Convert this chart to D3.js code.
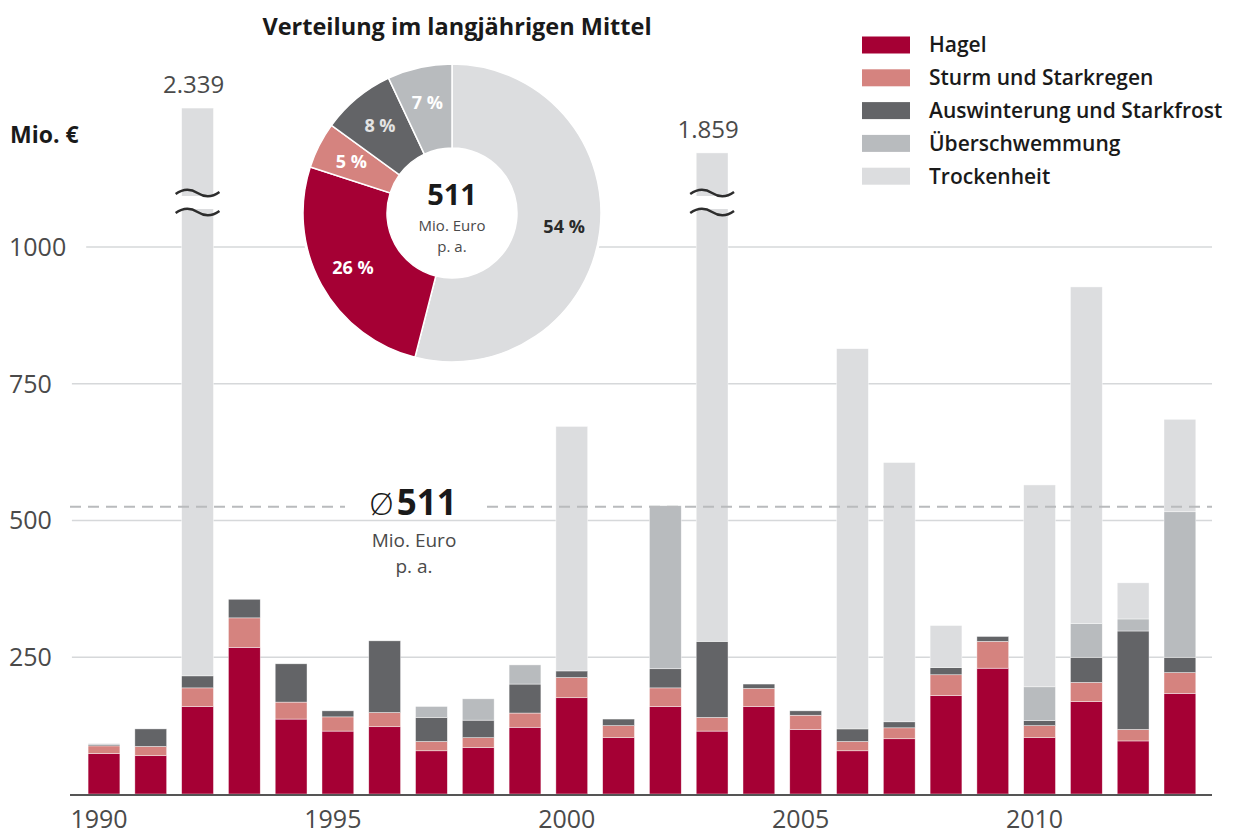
<!DOCTYPE html>
<html>
<head>
<meta charset="utf-8">
<script src="https://cdn.jsdelivr.net/npm/d3@7"></script>
<style>
  body { margin: 0; background: #fff; }
  svg { display: block; font-family: "Open Sans", sans-serif; }
</style>
</head>
<body>
<svg width="1237" height="834"></svg>
<script>
const years = [1990, 1991, 1992, 1993, 1994, 1995, 1996, 1997, 1998, 1999, 2000, 2001,
               2002, 2003, 2004, 2005, 2006, 2007, 2008, 2009, 2010, 2011, 2012, 2013]
const hagel =           [74, 70, 160, 268, 137, 115, 123, 79, 85, 122, 176, 103, 160, 115, 160, 118, 79, 101, 180, 230, 103, 169, 97, 184]
const sturm =           [14, 17, 34, 54, 31, 26, 26, 17, 18, 26, 37, 22, 34, 25, 33, 26, 17, 20, 38, 49, 22, 35, 21, 38]
const auswinterung =    [2, 32, 22, 34, 70, 11, 131, 44, 32, 53, 12, 12, 35, 139, 8, 8, 23, 11, 13, 9, 9, 46, 180, 28]
const ueberschwemmung = [2, 0, 0, 0, 0, 0, 0, 20, 39, 35, 0, 0, 298, 0, 0, 0, 0, 0, 0, 0, 62, 62, 22, 266]
const trockenheit =     [0, 0, 2123, 0, 0, 0, 0, 0, 0, 0, 447, 0, 0, 1580, 0, 0, 695, 474, 77, 0, 369, 615, 66, 169]

const keys = ["Hagel", "Sturm und Starkregen", "Auswinterung und Starkfrost", "Überschwemmung", "Trockenheit"]
const colours = ["#a50034", "#d5837f", "#636467", "#b8bbbe", "#dcdddf"]

// long-term shares for the donut (clockwise from top)
const shareKeys = ["Trockenheit", "Hagel", "Sturm und Starkregen", "Auswinterung und Starkfrost", "Überschwemmung"]
const shares = [54, 26, 5, 8, 7]

const yTicks = [250, 500, 750, 1000]
const xTickYears = [1990, 1995, 2000, 2005, 2010]
const bigTotals = { 1992: "2.339", 2003: "1.859" }
const average = 511
const averageLine = 525

const table = years.map((y, i) => ({
  year: y,
  "Hagel": hagel[i],
  "Sturm und Starkregen": sturm[i],
  "Auswinterung und Starkfrost": auswinterung[i],
  "Überschwemmung": ueberschwemmung[i],
  "Trockenheit": trockenheit[i]
}))

const svg = d3.select("svg")
const colour = d3.scaleOrdinal().domain(keys).range(colours)

const x = d3.scaleBand().domain(years).range([80.6, 1203.3]).paddingInner(0.32).paddingOuter(0.16)
const y = d3.scaleLinear().domain([0, 1000]).range([794, 247])
// bars beyond these heights are cut with a break mark
const capTop = { 1992: 1254, 2003: 1172 }
const shown = d => Math.min(d[1], capTop[d.data.year] || d[1])
const breakY1 = 193, breakY2 = 212
const xLeft = 70, xRight = 1212

// grid + y labels
const grid = svg.append("g")
yTicks.forEach(t => {
  const lbl = grid.append("text")
    .attr("x", 9).attr("y", y(t)).attr("dy", "0.35em")
    .attr("font-size", 25).attr("fill", "#4a4a4a")
    .text(t)
  const w = lbl.node().getComputedTextLength()
  grid.append("line")
    .attr("x1", Math.max(xLeft, 9 + w + 20)).attr("x2", xRight)
    .attr("y1", y(t)).attr("y2", y(t))
    .attr("stroke", "#d6d8da").attr("stroke-width", 1.5)
})

svg.append("text")
  .attr("x", 10).attr("y", 143)
  .attr("font-size", 23).attr("font-weight", 700).attr("fill", "#1a1a1a")
  .text("Mio. €")

// bars
const series = d3.stack().keys(keys)(table)
const bars = svg.append("g")
bars.selectAll("g")
  .data(series)
  .join("g")
  .attr("fill", d => colour(d.key))
  .selectAll("rect")
  .data(d => d.filter(s => s[1] - s[0] > 0))
  .join("rect")
  .attr("x", d => x(d.data.year))
  .attr("width", x.bandwidth())
  .attr("y", d => y(shown(d)))
  .attr("height", d => y(d[0]) - y(shown(d)))
  .attr("stroke", "#fff").attr("stroke-width", 0.6).attr("stroke-opacity", 0.7)

// break marks and big totals
Object.keys(bigTotals).forEach(yr => {
  const year = +yr
  const bx = x(year), bw = x.bandwidth()
  svg.append("rect")
    .attr("x", bx - 1).attr("width", bw + 2)
    .attr("y", breakY1 + 3).attr("height", breakY2 - breakY1 - 6)
    .attr("fill", "#fff")
  ;[breakY1, breakY2].forEach(by => {
    const x0 = bx - 6, w = bw + 12
    svg.append("path")
      .attr("d", `M${x0},${by + 1} Q${x0 + w / 4},${by - 7} ${x0 + w / 2},${by} Q${x0 + 3 * w / 4},${by + 7} ${x0 + w},${by - 1}`)
      .attr("fill", "none").attr("stroke", "#2d2d2d").attr("stroke-width", 2.4)
  })
  svg.append("text")
    .attr("x", bx + bw / 2 - 4).attr("y", y(capTop[year]) - 15)
    .attr("text-anchor", "middle")
    .attr("font-size", 24).attr("fill", "#4a4a4a")
    .text(bigTotals[yr])
})

// x axis
svg.append("line")
  .attr("x1", xLeft).attr("x2", xRight)
  .attr("y1", y(0) + 1).attr("y2", y(0) + 1)
  .attr("stroke", "#555").attr("stroke-width", 2)
svg.append("g").selectAll("text")
  .data(xTickYears)
  .join("text")
  .attr("x", d => x(d) + x.bandwidth() / 2 - 5)
  .attr("y", 828)
  .attr("text-anchor", "middle")
  .attr("font-size", 25).attr("fill", "#4a4a4a")
  .text(d => d)

// average dashed line with gap for the label
const gapL = 345, gapR = 487
;[[xLeft, gapL], [gapR, xRight]].forEach(([a, b]) => {
  svg.append("line")
    .attr("x1", a).attr("x2", b)
    .attr("y1", y(averageLine)).attr("y2", y(averageLine))
    .attr("stroke", "#b9bbbd").attr("stroke-width", 2).attr("stroke-dasharray", "11,7")
})
const avgLabel = svg.append("text")
  .attr("y", 515)
  .attr("text-anchor", "middle")
  .attr("fill", "#1a1a1a")
avgLabel.append("tspan").attr("x", 413).attr("font-size", 32).attr("font-weight", 300).text("Ø")
avgLabel.append("tspan").attr("font-size", 35).attr("font-weight", 700).attr("dx", 3).text(average)
svg.append("text").attr("x", 414).attr("y", 547)
  .attr("text-anchor", "middle")
  .attr("font-size", 19).attr("fill", "#4a4a4a").text("Mio. Euro")
svg.append("text").attr("x", 414).attr("y", 573)
  .attr("text-anchor", "middle")
  .attr("font-size", 19).attr("fill", "#4a4a4a").text("p. a.")

// donut
const cx = 452, cy = 213, rOuter = 149, rInner = 65
const pie = d3.pie().sort(null).value(d => d.v)
const arcs = pie(shareKeys.map((k, i) => ({ k, v: shares[i] })))
const arc = d3.arc().innerRadius(rInner).outerRadius(rOuter)
const labelArc = d3.arc().innerRadius(113).outerRadius(113)
const donut = svg.append("g").attr("transform", `translate(${cx},${cy})`)
donut.append("circle").attr("r", rOuter + 2).attr("fill", "#fff")
donut.selectAll("path")
  .data(arcs)
  .join("path")
  .attr("d", arc)
  .attr("fill", d => colour(d.data.k))
  .attr("stroke", "#fff").attr("stroke-width", 1.5)
donut.selectAll("text.pct")
  .data(arcs)
  .join("text")
  .attr("class", "pct")
  .attr("transform", d => `translate(${labelArc.centroid(d)})`)
  .attr("text-anchor", "middle").attr("dy", "0.35em")
  .attr("font-size", 18).attr("font-weight", 700)
  .attr("fill", d => d.data.k === "Trockenheit" ? "#2a2a2a" : d.data.k === "Auswinterung und Starkfrost" ? "#e4e4e4" : "#fff")
  .text(d => d.data.v + " %")
donut.append("text").attr("y", -8).attr("text-anchor", "middle")
  .attr("font-size", 29).attr("font-weight", 700).attr("fill", "#1a1a1a").text(average)
donut.append("text").attr("y", 18).attr("text-anchor", "middle")
  .attr("font-size", 15).attr("fill", "#4a4a4a").text("Mio. Euro")
donut.append("text").attr("y", 39).attr("text-anchor", "middle")
  .attr("font-size", 15).attr("fill", "#4a4a4a").text("p. a.")

svg.append("text")
  .attr("x", 457).attr("y", 35)
  .attr("text-anchor", "middle")
  .attr("font-size", 23.5).attr("font-weight", 700).attr("fill", "#1a1a1a")
  .text("Verteilung im langjährigen Mittel")

// legend
const legend = svg.append("g").attr("transform", "translate(862,45)")
const row = legend.selectAll("g")
  .data(keys)
  .join("g")
  .attr("transform", (d, i) => `translate(0,${i * 32.8})`)
row.append("rect")
  .attr("y", -8.5).attr("width", 48).attr("height", 17)
  .attr("fill", d => colour(d))
row.append("text")
  .attr("x", 67).attr("dy", "0.35em")
  .attr("font-size", 21).attr("font-weight", 600).attr("fill", "#1a1a1a")
  .text(d => d)
</script>
</body>
</html>
